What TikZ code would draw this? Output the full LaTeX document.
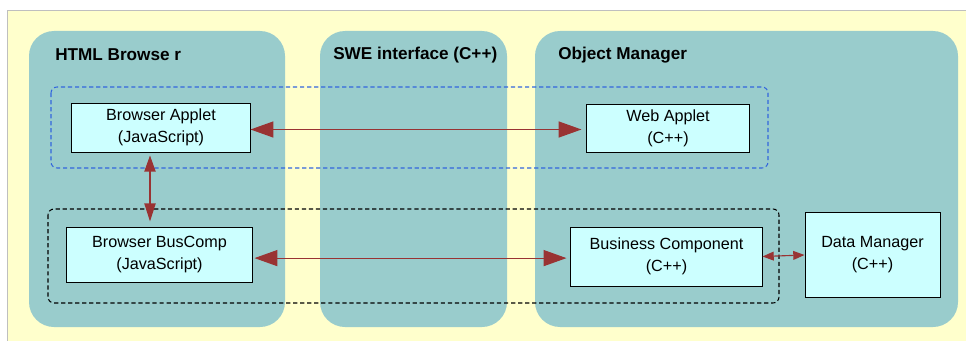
\documentclass[tikz,border=0pt]{standalone}
\usepackage{fontspec}
\setmainfont{Liberation Sans}
\usepackage{xcolor}
\usetikzlibrary{arrows.meta}
\definecolor{cream}{HTML}{FFFFCC}
\definecolor{lanecol}{HTML}{99CCCC}
\definecolor{boxcol}{HTML}{CCFFFF}
\definecolor{linkcol}{HTML}{993333}
\definecolor{groupblue}{HTML}{3366DD}

\begin{document}
\begin{tikzpicture}[
		x=0.025cm, y=-0.025cm,
		font=\fontsize{11.5}{15.5}\selectfont,
		lane/.style={fill=lanecol, rounded corners=0.625cm},
		lanetitle/.style={anchor=west, inner sep=0pt, font=\fontsize{12.2}{14}\selectfont\bfseries},
		compbox/.style={draw, fill=boxcol, line width=0.7pt, align=center, inner sep=0pt},
		group/.style={dash pattern=on 3pt off 2pt, line width=0.75pt, rounded corners=0.15cm},
		link/.style={draw=linkcol, line width=0.8pt, {Triangle[length=0.57cm,width=0.4cm]}-{Triangle[length=0.57cm,width=0.4cm]}},
		vlink/.style={draw=linkcol, line width=0.8pt, {Triangle[length=0.4cm,width=0.28cm]}-{Triangle[length=0.45cm,width=0.28cm]}},
		smalllink/.style={draw=linkcol, line width=0.8pt, {Triangle[length=0.28cm,width=0.22cm]}-{Triangle[length=0.28cm,width=0.22cm]}}
	]
	\useasboundingbox (0,0) rectangle (966,341);
	\fill[white] (0,0) rectangle (966,341);
	\filldraw[fill=cream, draw=black!25, line width=0.6pt] (7,341) -- (7,10) -- (966,10) -- (966,341);

	\fill[lane] (29,31) rectangle (285,327);
	\fill[lane] (320,31) rectangle (507,327);
	\fill[lane] (535,31) rectangle (958,327);

	\node[lanetitle] (htmltitle) at (55,55) {HTML Browse r};
	\node[lanetitle] (swetitle) at (333,55) {SWE interface (C++)};
	\node[lanetitle] (omtitle) at (558,55) {Object Manager};

	\draw[group, draw=groupblue] (51,87) rectangle (768,168);
	\draw[group, draw=black] (48,209) rectangle (779,303);

	\node[compbox, minimum width=4.45cm, minimum height=1.225cm] (bapplet) at (161,127.5) {Browser Applet\\(JavaScript)};
	\node[compbox, minimum width=4.05cm, minimum height=1.2cm] (wapplet) at (668,128) {Web Applet\\(C++)};
	\node[compbox, minimum width=4.625cm, minimum height=1.375cm] (bbuscomp) at (159.5,254.5) {Browser BusComp\\(JavaScript)};
	\node[compbox, minimum width=4.775cm, minimum height=1.475cm] (buscomp) at (666.5,256.5) {Business Component\\(C++)};
	\node[compbox, minimum width=3.375cm, minimum height=2.1cm] (datamgr) at (872.5,255) {Data Manager\\(C++)};

	\draw[link, shorten >=0.125cm] ([yshift=-0.05cm]bapplet.east) -- ([yshift=-0.05cm]bapplet.east -| wapplet.west);
	\draw[vlink, shorten <=0.075cm, shorten >=0.125cm] ([xshift=-0.275cm]bapplet.south) -- ([xshift=-0.275cm]bapplet.south |- bbuscomp.north);
	\draw[link, shorten <=0.05cm, shorten >=0.1cm] ([yshift=-0.09cm]bbuscomp.east) -- ([yshift=-0.09cm]bbuscomp.east -| buscomp.west);
	\draw[smalllink] (buscomp.east) -- (datamgr.west);
\end{tikzpicture}
\end{document}
